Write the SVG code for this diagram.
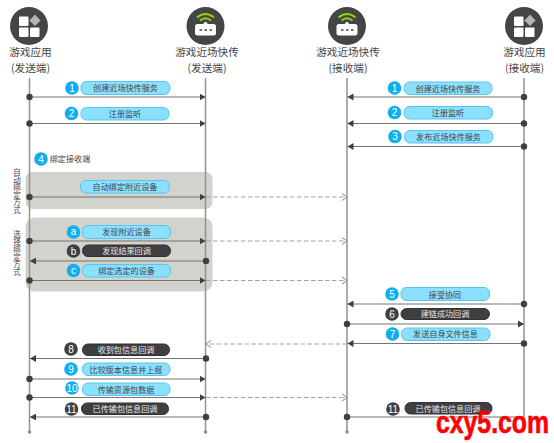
<svg xmlns="http://www.w3.org/2000/svg" width="554" height="443" viewBox="0 0 554 443">
<style>
text{font-family:"Noto Sans CJK SC","Liberation Sans",sans-serif;text-anchor:middle}
.h{font-size:10.6px;fill:#444}
.l{stroke:#94948c;stroke-width:1.5;fill:none}
.a{stroke:#75756e;stroke-width:1.2;fill:none}
.d{stroke:#a3a3a3;stroke-width:1.2;stroke-dasharray:4.500 2.500;fill:none}
.o{fill:#3f3e42}
.pb{fill:#8ce0ff;stroke:#55c5f5;stroke-width:1}
.pd{fill:#3f3e42;stroke:#333;stroke-width:1}
.tb{font-size:8.100px;fill:#444}
.td{font-size:8.100px;fill:#e8e8e8}
.nb{fill:#0eaef0}
.nd{fill:#3f3e42}
.n{font-size:10px;fill:#fff;font-family:"Liberation Sans",sans-serif}
.band{fill:#d3d3cd}
.v{font-size:7.500px;fill:#444;writing-mode:vertical-rl;text-anchor:start}
.ic{fill:#fff}
</style>
<defs>
<marker id="ar" markerUnits="userSpaceOnUse" markerWidth="7" markerHeight="7" refX="6" refY="3.500" orient="auto"><path d="M0 0L6 3.500L0 7Z" fill="#3f3e42"/></marker>
<marker id="op" markerUnits="userSpaceOnUse" markerWidth="7" markerHeight="9" refX="6" refY="4.500" orient="auto"><path d="M1 1L6 4.500L1 8" fill="none" stroke="#a3a3a3" stroke-width="1.100"/></marker>
</defs>
<g id="bands">
<rect class="band" x="25.500" y="172" width="187" height="37" rx="7"/>
<rect class="band" x="25.500" y="217.500" width="187" height="74" rx="9"/>
</g>
<g id="lifelines">
<path class="l" d="M29.500 78V432M205.500 78V432M347 78V432M524 78V432"/>
<circle cx="29.500" cy="432" r="1.800" fill="#8d8d85"/><circle cx="205.500" cy="432" r="1.800" fill="#8d8d85"/><circle cx="347" cy="432" r="1.800" fill="#8d8d85"/>
</g>
<g id="node-app-send">
<circle cx="29" cy="26" r="19" fill="#454545"/>
<rect class="ic" x="19" y="16.500" width="9.500" height="9.500" rx="1"/><rect class="ic" x="19" y="27.500" width="9.500" height="9.500" rx="1"/><rect class="ic" x="30" y="27.500" width="9.500" height="9.500" rx="1"/>
<path d="M35 14.500L40.500 20.500L35 26L29.500 20.500Z" fill="#b5b5b5"/>
<text class="h" x="30.500" y="56">游戏应用</text><text class="h" x="30.500" y="72">(发送端)</text>
</g>
<g id="node-near-send">
<circle cx="205.500" cy="26" r="19" fill="#454545"/>
<path d="M197 17.500Q205.500 10.500 214 17.500M200 20.500Q205.500 16 211 20.500" fill="none" stroke="#8fd016" stroke-width="2"/>
<path d="M195 26.500Q195 24 197.500 24H203L205.500 21.500L208 24H213.500Q216 24 216 26.500V33Q216 35.500 213.500 35.500H197.500Q195 35.500 195 33Z" fill="#fff"/>
<path d="M199.500 30H202M204.500 30H207M209.500 30H212" stroke="#454545" stroke-width="1.500"/>
<text class="h" x="207" y="56">游戏近场快传</text><text class="h" x="207" y="72">(发送端)</text>
</g>
<g id="node-near-recv">
<circle cx="347" cy="26" r="19" fill="#454545"/>
<path d="M338.500 17.500Q347 10.500 355.500 17.500M341.500 20.500Q347 16 352.500 20.500" fill="none" stroke="#8fd016" stroke-width="2"/>
<path d="M336.500 26.500Q336.500 24 339 24H344.500L347 21.500L349.500 24H355Q357.500 24 357.500 26.500V33Q357.500 35.500 355 35.500H339Q336.500 35.500 336.500 33Z" fill="#fff"/>
<path d="M341 30H343.500M346 30H348.500M351 30H353.500" stroke="#454545" stroke-width="1.500"/>
<text class="h" x="348" y="56">游戏近场快传</text><text class="h" x="348" y="72">(接收端)</text>
</g>
<g id="node-app-recv">
<circle cx="524" cy="26" r="19" fill="#454545"/>
<rect class="ic" x="514" y="16.500" width="9.500" height="9.500" rx="1"/><rect class="ic" x="514" y="27.500" width="9.500" height="9.500" rx="1"/><rect class="ic" x="525" y="27.500" width="9.500" height="9.500" rx="1"/>
<path d="M530 14.500L535.500 20.500L530 26L524.500 20.500Z" fill="#b5b5b5"/>
<text class="h" x="524.500" y="56">游戏应用</text><text class="h" x="524.500" y="72">(接收端)</text>
</g>
<g id="connectors">
<path class="a" marker-end="url(#ar)" d="M29.500 97H205.500"/>
<path class="a" marker-end="url(#ar)" d="M29.500 123.500H205.500"/>
<path class="a" marker-end="url(#ar)" d="M29.500 197H205.500"/>
<path class="a" marker-end="url(#ar)" d="M29.500 241H205.500"/>
<path class="a" marker-end="url(#ar)" d="M206 261H30"/>
<path class="a" marker-end="url(#ar)" d="M29.500 280.500H205.500"/>
<path class="a" marker-end="url(#ar)" d="M206 358.500H30"/>
<path class="a" marker-end="url(#ar)" d="M29.500 379H205.500"/>
<path class="a" marker-end="url(#ar)" d="M29.500 397.500H205.500"/>
<path class="a" marker-end="url(#ar)" d="M206 417H30"/>
<path class="a" marker-end="url(#ar)" d="M524 97H347.500"/>
<path class="a" marker-end="url(#ar)" d="M524 123.500H347.500"/>
<path class="a" marker-end="url(#ar)" d="M524 146.500H347.500"/>
<path class="a" marker-end="url(#ar)" d="M524 304H347.500"/>
<path class="a" marker-end="url(#ar)" d="M347 324H524"/>
<path class="a" marker-end="url(#ar)" d="M524 343.500H347.500"/>
<path class="a" d="M347 417H524"/>
<path class="d" marker-end="url(#op)" d="M206 197H347"/>
<path class="d" marker-end="url(#op)" d="M206 241H347"/>
<path class="d" marker-end="url(#op)" d="M206 280.500H347"/>
<path class="d" marker-end="url(#op)" d="M347 344H206"/>
<path class="d" marker-end="url(#op)" d="M206 397.500H347"/>
<g class="o">
<circle cx="29.500" cy="97" r="3.200"/><circle cx="29.500" cy="123.500" r="3.200"/><circle cx="29.500" cy="197" r="3.200"/><circle cx="29.500" cy="241" r="3.200"/><circle cx="206" cy="261" r="3.200"/><circle cx="29.500" cy="280.500" r="3.200"/><circle cx="206" cy="358.500" r="3.200"/><circle cx="29.500" cy="379" r="3.200"/><circle cx="29.500" cy="397.500" r="3.200"/><circle cx="206" cy="417" r="3.200"/>
<circle cx="524" cy="97" r="3.200"/><circle cx="524" cy="123.500" r="3.200"/><circle cx="524" cy="146.500" r="3.200"/><circle cx="524" cy="304" r="3.200"/><circle cx="347" cy="324" r="3.200"/><circle cx="524" cy="343.500" r="3.200"/><circle cx="347" cy="417" r="3.200"/>
</g>
</g>
<g id="step-1-l"><circle class="nb" cx="72" cy="88" r="6.800"/><text class="n" x="72" y="91.500">1</text><rect class="pb" x="81" y="81.500" width="89" height="13" rx="5.500"/><text class="tb" x="125.500" y="91">创建近场快传服务</text></g>
<g id="step-2-l"><circle class="nb" cx="71.500" cy="113.500" r="6.800"/><text class="n" x="71.500" y="117">2</text><rect class="pb" x="81" y="107.500" width="88" height="12.500" rx="5.500"/><text class="tb" x="125" y="117">注册监听</text></g>
<g id="step-1-r"><circle class="nb" cx="394.500" cy="88" r="6.800"/><text class="n" x="394.500" y="91.500">1</text><rect class="pb" x="404" y="82" width="88" height="12.500" rx="5.500"/><text class="tb" x="448" y="91.500">创建近场快传服务</text></g>
<g id="step-2-r"><circle class="nb" cx="394.500" cy="112.500" r="6.800"/><text class="n" x="394.500" y="116">2</text><rect class="pb" x="404" y="106.500" width="88.500" height="12.500" rx="5.500"/><text class="tb" x="448" y="116">注册监听</text></g>
<g id="step-3-r"><circle class="nb" cx="395" cy="136.500" r="6.800"/><text class="n" x="395" y="140">3</text><rect class="pb" x="404.500" y="130.500" width="88.500" height="12.500" rx="5.500"/><text class="tb" x="448.500" y="140">发布近场快传服务</text></g>
<g id="step-4"><circle class="nb" cx="41" cy="159" r="6.800"/><text class="n" x="41" y="162.500">4</text><text class="tb" x="70" y="162">绑定接收端</text></g>
<g id="mode-auto"><text class="v" x="17" y="168.500">自动绑定方式</text></g>
<g id="mode-select"><text class="v" x="17" y="230.500">选择绑定方式</text></g>
<g id="step-auto"><rect class="pb" x="80.500" y="180.500" width="89" height="12.500" rx="5.500"/><text class="tb" x="125" y="190">自动绑定附近设备</text></g>
<g id="step-a"><circle class="nb" cx="73.500" cy="232" r="6.800"/><text class="n" x="73.500" y="235">a</text><rect class="pb" x="82.500" y="225.500" width="88" height="13" rx="5.500"/><text class="tb" x="126.500" y="235">发现附近设备</text></g>
<g id="step-b"><circle class="nd" cx="73.500" cy="251" r="6.800"/><text class="n" x="73.500" y="254.500">b</text><rect class="pd" x="82.500" y="245" width="88" height="11.500" rx="5.500"/><text class="td" x="126.500" y="254">发现结果回调</text></g>
<g id="step-c"><circle class="nb" cx="73.500" cy="270.500" r="6.800"/><text class="n" x="73.500" y="273.500">c</text><rect class="pb" x="82.500" y="264.500" width="88" height="12.500" rx="5.500"/><text class="tb" x="126.500" y="274">绑定选定的设备</text></g>
<g id="step-5"><circle class="nb" cx="392" cy="294" r="6.800"/><text class="n" x="392" y="297.500">5</text><rect class="pb" x="401" y="287.500" width="88.500" height="13" rx="5.500"/><text class="tb" x="445" y="297.500">接受协同</text></g>
<g id="step-6"><circle class="nd" cx="392" cy="314" r="6.800"/><text class="n" x="392" y="317.500">6</text><rect class="pd" x="401" y="308.500" width="88.500" height="11" rx="5.500"/><text class="td" x="445" y="317">建链成功回调</text></g>
<g id="step-7"><circle class="nb" cx="392.500" cy="334" r="6.800"/><text class="n" x="392.500" y="337.500">7</text><rect class="pb" x="401.500" y="328" width="88.500" height="12.500" rx="5.500"/><text class="tb" x="445.500" y="337">发送自身文件信息</text></g>
<g id="step-8"><circle class="nd" cx="71" cy="349" r="6.800"/><text class="n" x="71" y="352.500">8</text><rect class="pd" x="82.500" y="344" width="87" height="11.500" rx="5.500"/><text class="td" x="126" y="353">收到包信息回调</text></g>
<g id="step-9"><circle class="nb" cx="71" cy="369" r="6.800"/><text class="n" x="71" y="372.500">9</text><rect class="pb" x="82.500" y="363" width="87.500" height="12.500" rx="5.500"/><text class="tb" x="126" y="372.500">比较版本信息并上报</text></g>
<g id="step-10"><circle class="nb" cx="72" cy="388" r="6.800"/><text class="n" x="72" y="391.500">10</text><rect class="pb" x="82.500" y="383" width="87.500" height="12.500" rx="5.500"/><text class="tb" x="126" y="392.500">传输资源包数据</text></g>
<g id="step-11-l"><circle class="nd" cx="71.500" cy="409" r="6.800"/><text class="n" x="71.500" y="412.500">11</text><rect class="pd" x="81.500" y="403" width="87" height="11.500" rx="5.500"/><text class="td" x="125" y="412">已传输包信息回调</text></g>
<g id="step-11-r"><circle class="nd" cx="393" cy="409" r="6.800"/><text class="n" x="393" y="412.500">11</text><rect class="pd" x="405" y="402.500" width="87" height="11.500" rx="5.500"/><text class="td" x="448" y="411.500">已传输包信息回调</text></g>
<g id="watermark"><text transform="translate(436 433) scale(1 1.25)" x="0" y="0" style="font-family:'Liberation Sans',sans-serif;font-weight:700;font-size:24.800px;fill:#f00;stroke:#f00;stroke-width:.5;text-anchor:start">cxy5.com</text></g>
</svg>
